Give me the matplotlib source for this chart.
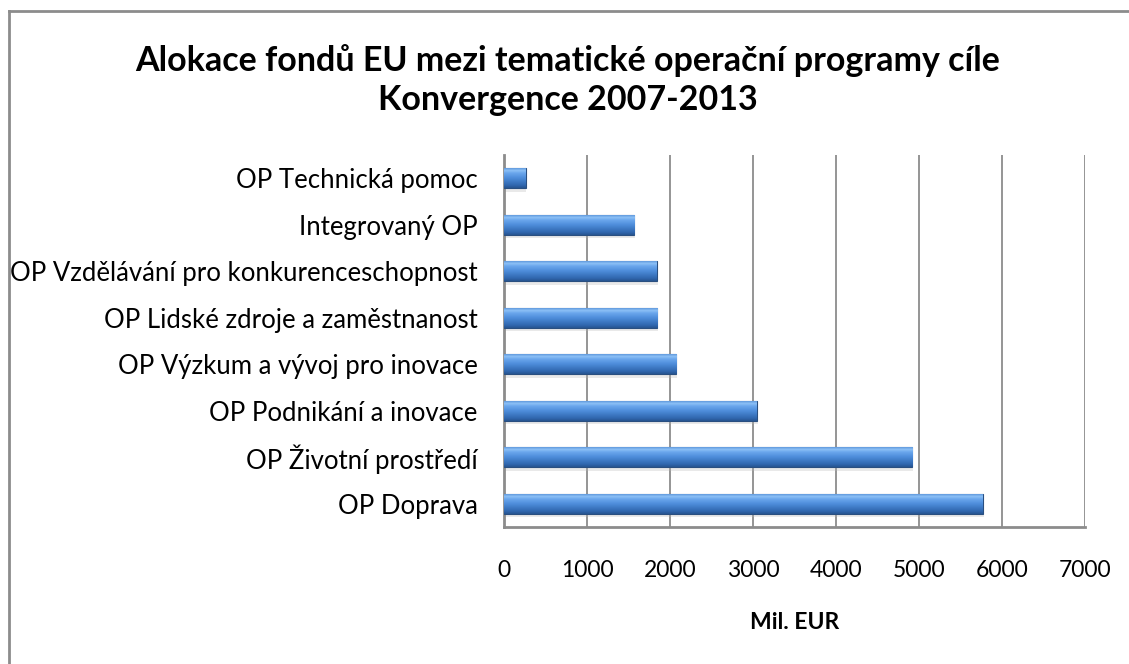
import matplotlib
matplotlib.use("Agg")
import matplotlib.pyplot as plt
import numpy as np
from matplotlib.lines import Line2D
from matplotlib.colors import LinearSegmentedColormap

categories = ["OP Doprava", "OP Životní prostředí", "OP Podnikání a inovace",
              "OP Výzkum a vývoj pro inovace", "OP Lidské zdroje a zaměstnanost",
              "OP Vzdělávání pro konkurenceschopnost", "Integrovaný OP",
              "OP Technická pomoc"]
values = [5770, 4920, 3045, 2075, 1845, 1840, 1570, 260]
xticks = [0, 1000, 2000, 3000, 4000, 5000, 6000, 7000]
title = "Alokace fondů EU mezi tematické operační programy cíle\nKonvergence 2007-2013"
xlabel = "Mil. EUR"

plt.rcParams['font.family'] = ['Lato', 'DejaVu Sans']

fig = plt.figure(figsize=(11.29, 6.64), dpi=100)
ax = fig.add_axes([504/1129, 1-527/664, 581/1129, 372/664])

y = np.arange(len(categories))
h = 0.43
cmap = LinearSegmentedColormap.from_list("bar", [
    (0.0, "#27548f"), (0.15, "#3168b0"), (0.5, "#4d8cda"),
    (0.75, "#6aa6ec"), (0.88, "#8cc0f6"), (1.0, "#5f98dc")])

# shadows
ax.barh(y - 0.07, values, height=h, left=10, color="#b8b8b8", alpha=0.3,
        zorder=2, linewidth=0)
bars = ax.barh(y, values, height=h, color="#4a88d6", edgecolor="#2a4f80",
               linewidth=0.8, zorder=3)
grad = np.linspace(0, 1, 256).reshape(-1, 1)
for b in bars:
    x0, y0 = b.get_x(), b.get_y()
    w, hh = b.get_width(), b.get_height()
    im = ax.imshow(grad, cmap=cmap, aspect='auto', origin='lower',
                   extent=[x0, x0 + w, y0, y0 + hh], zorder=3.5)
    im.set_clip_path(b)

ax.set_xlim(0, 7000)
ax.set_ylim(-0.5, len(categories) - 0.5)
ax.set_xticks(xticks)
ax.set_xticklabels([str(t) for t in xticks], fontsize=16.5)
ax.set_yticks(y)
ax.set_yticklabels(categories, fontsize=18.5)
ax.tick_params(axis='both', length=0)
ax.tick_params(axis='x', pad=24)
ax.tick_params(axis='y', pad=19)
ax.grid(axis='x', color="#8c8c8c", linewidth=1.3, zorder=1)
ax.set_axisbelow(True)
for s in ['top', 'right']:
    ax.spines[s].set_visible(False)
for s in ['left', 'bottom']:
    ax.spines[s].set_color("#8c8c8c")
    ax.spines[s].set_linewidth(2)
ax.set_xlabel(xlabel, fontsize=16.5, fontweight='bold', labelpad=22)

fig.text(568/1129, 1-80/664, title, ha='center', va='center', fontsize=24.5,
         fontweight='bold', linespacing=1.3)

fig.add_artist(Line2D([9/1129, 9/1129], [0, 1-10.5/664], color="#8c8c8c", lw=2))
fig.add_artist(Line2D([9/1129, 1], [1-10.5/664, 1-10.5/664], color="#8c8c8c", lw=2))

fig.savefig("out.png", dpi=100)
